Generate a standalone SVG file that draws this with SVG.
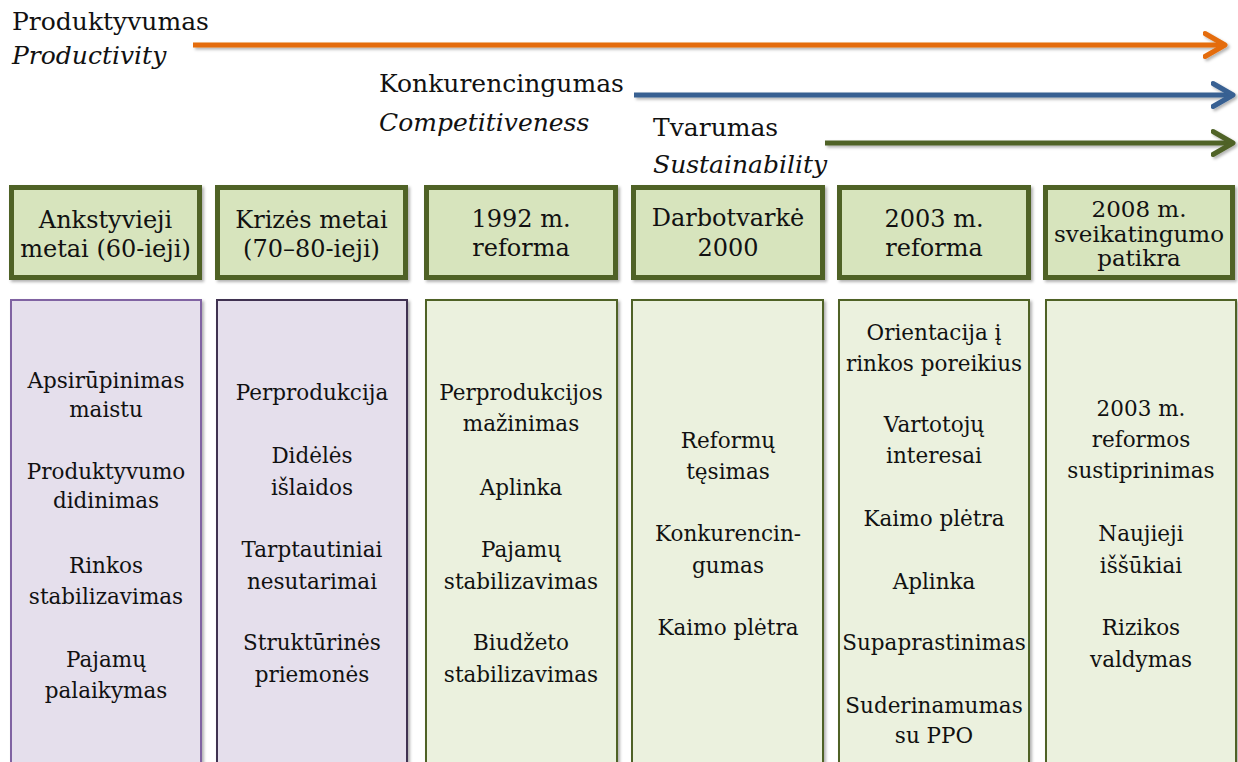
<svg xmlns="http://www.w3.org/2000/svg" width="1238" height="762" viewBox="0 0 1238 762">
<style>
text{font-family:"DejaVu Serif","Liberation Serif",serif;fill:#111;}
.lbl{font-size:25px;}
.it{font-style:italic;}
.hd{font-size:24px;text-anchor:middle;}
.hs{font-size:23px;text-anchor:middle;}
.bd{font-size:21.5px;text-anchor:middle;}
.hbox{fill:#d7e4bd;stroke:#4f6228;stroke-width:5;filter:url(#sh);}
.cg{fill:#ebf1de;stroke:#4f6228;stroke-width:2;filter:url(#sh);}
.cp1{fill:#e5dfec;stroke:#8064a2;stroke-width:2;filter:url(#sh);}
.cp2{fill:#e5dfec;stroke:#3f3151;stroke-width:2;filter:url(#sh);}
.arr{fill:none;stroke-width:5;stroke-linecap:butt;filter:url(#sha);}
</style>
<defs>
<filter id="sh" x="-5%" y="-20%" width="115%" height="150%">
<feDropShadow dx="2" dy="2" stdDeviation="1.5" flood-color="#000" flood-opacity="0.3"/>
</filter>
<filter id="sha" filterUnits="userSpaceOnUse" x="0" y="0" width="1238" height="200">
<feDropShadow dx="2" dy="2" stdDeviation="1.5" flood-color="#000" flood-opacity="0.3"/>
</filter>
<marker id="mo" markerUnits="userSpaceOnUse" markerWidth="30" markerHeight="30" viewBox="-20 -15 30 30" refX="0" refY="0" orient="auto"><path d="M-18,-11.5 L2,0 L-18,11.5" fill="none" stroke="#e46c0a" stroke-width="5" stroke-linecap="round" stroke-linejoin="round"/></marker>
<marker id="mb" markerUnits="userSpaceOnUse" markerWidth="30" markerHeight="30" viewBox="-20 -15 30 30" refX="0" refY="0" orient="auto"><path d="M-18,-11.5 L2,0 L-18,11.5" fill="none" stroke="#376092" stroke-width="5" stroke-linecap="round" stroke-linejoin="round"/></marker>
<marker id="mg" markerUnits="userSpaceOnUse" markerWidth="30" markerHeight="30" viewBox="-20 -15 30 30" refX="0" refY="0" orient="auto"><path d="M-18,-11.5 L2,0 L-18,11.5" fill="none" stroke="#4f6228" stroke-width="5" stroke-linecap="round" stroke-linejoin="round"/></marker>
</defs>
<rect width="1238" height="762" fill="#fff"/>

<g id="connectors">
<path class="arr" d="M193,45 L1223,45" stroke="#e46c0a" marker-end="url(#mo)"/>
<path class="arr" d="M634,95 L1231,95" stroke="#376092" marker-end="url(#mb)"/>
<path class="arr" d="M825,143 L1231,143" stroke="#4f6228" marker-end="url(#mg)"/>
</g>

<g id="label-productivity">
<text class="lbl" x="12" y="30">Produktyvumas</text>
<text class="lbl it" x="12" y="64">Productivity</text>
</g>
<g id="label-competitiveness">
<text class="lbl" x="379" y="92">Konkurencingumas</text>
<text class="lbl it" x="379" y="131">Competitiveness</text>
</g>
<g id="label-sustainability">
<text class="lbl" x="653" y="136">Tvarumas</text>
<text class="lbl it" x="653" y="173">Sustainability</text>
</g>

<g id="h1"><rect class="hbox" x="11.5" y="187.5" width="188" height="90"/>
<text class="hd" x="105.5" y="228">Ankstyvieji</text><text class="hd" x="105.5" y="257">metai (60-ieji)</text></g>
<g id="h2"><rect class="hbox" x="217.5" y="187.5" width="188" height="90"/>
<text class="hd" x="311.5" y="228">Krizės metai</text><text class="hd" x="311.5" y="257">(70–80-ieji)</text></g>
<g id="h3"><rect class="hbox" x="426.5" y="187.5" width="189" height="90"/>
<text class="hd" x="521" y="227">1992 m.</text><text class="hd" x="521" y="256">reforma</text></g>
<g id="h4"><rect class="hbox" x="633.5" y="187.5" width="189" height="90"/>
<text class="hd" x="728" y="226">Darbotvarkė</text><text class="hd" x="728" y="256">2000</text></g>
<g id="h5"><rect class="hbox" x="839.5" y="187.5" width="189" height="90"/>
<text class="hd" x="934" y="227">2003 m.</text><text class="hd" x="934" y="256">reforma</text></g>
<g id="h6"><rect class="hbox" x="1045.5" y="187.5" width="187" height="90"/>
<text class="hs" x="1139" y="217">2008 m.</text><text class="hs" x="1139" y="242">sveikatingumo</text><text class="hs" x="1139" y="266">patikra</text></g>

<g id="c1"><rect class="cp1" x="11" y="300" width="190" height="480"/>
<text class="bd" x="106" y="388">Apsirūpinimas</text><text class="bd" x="106" y="417">maistu</text>
<text class="bd" x="106" y="479">Produktyvumo</text><text class="bd" x="106" y="508">didinimas</text>
<text class="bd" x="106" y="573">Rinkos</text><text class="bd" x="106" y="604">stabilizavimas</text>
<text class="bd" x="106" y="667">Pajamų</text><text class="bd" x="106" y="698">palaikymas</text></g>

<g id="c2"><rect class="cp2" x="217" y="300" width="190" height="480"/>
<text class="bd" x="312" y="400">Perprodukcija</text>
<text class="bd" x="312" y="463">Didėlės</text><text class="bd" x="312" y="495">išlaidos</text>
<text class="bd" x="312" y="557">Tarptautiniai</text><text class="bd" x="312" y="589">nesutarimai</text>
<text class="bd" x="312" y="650">Struktūrinės</text><text class="bd" x="312" y="682">priemonės</text></g>

<g id="c3"><rect class="cg" x="426" y="300" width="191" height="480"/>
<text class="bd" x="521" y="400">Perprodukcijos</text><text class="bd" x="521" y="431">mažinimas</text>
<text class="bd" x="521" y="495">Aplinka</text>
<text class="bd" x="521" y="557">Pajamų</text><text class="bd" x="521" y="589">stabilizavimas</text>
<text class="bd" x="521" y="650">Biudžeto</text><text class="bd" x="521" y="682">stabilizavimas</text></g>

<g id="c4"><rect class="cg" x="632" y="300" width="191" height="480"/>
<text class="bd" x="728" y="448">Reformų</text><text class="bd" x="728" y="479">tęsimas</text>
<text class="bd" x="728" y="541">Konkurencin-</text><text class="bd" x="728" y="573">gumas</text>
<text class="bd" x="728" y="635">Kaimo plėtra</text></g>

<g id="c5"><rect class="cg" x="839" y="300" width="190" height="480"/>
<text class="bd" x="934" y="340">Orientacija į</text><text class="bd" x="934" y="371">rinkos poreikius</text>
<text class="bd" x="934" y="432">Vartotojų</text><text class="bd" x="934" y="463">interesai</text>
<text class="bd" x="934" y="526">Kaimo plėtra</text>
<text class="bd" x="934" y="589">Aplinka</text>
<text class="bd" x="934" y="650">Supaprastinimas</text>
<text class="bd" x="934" y="713">Suderinamumas</text><text class="bd" x="934" y="743">su PPO</text></g>

<g id="c6"><rect class="cg" x="1046" y="300" width="190" height="480"/>
<text class="bd" x="1141" y="416">2003 m.</text><text class="bd" x="1141" y="447">reformos</text><text class="bd" x="1141" y="478">sustiprinimas</text>
<text class="bd" x="1141" y="541">Naujieji</text><text class="bd" x="1141" y="573">iššūkiai</text>
<text class="bd" x="1141" y="635">Rizikos</text><text class="bd" x="1141" y="667">valdymas</text></g>
</svg>
